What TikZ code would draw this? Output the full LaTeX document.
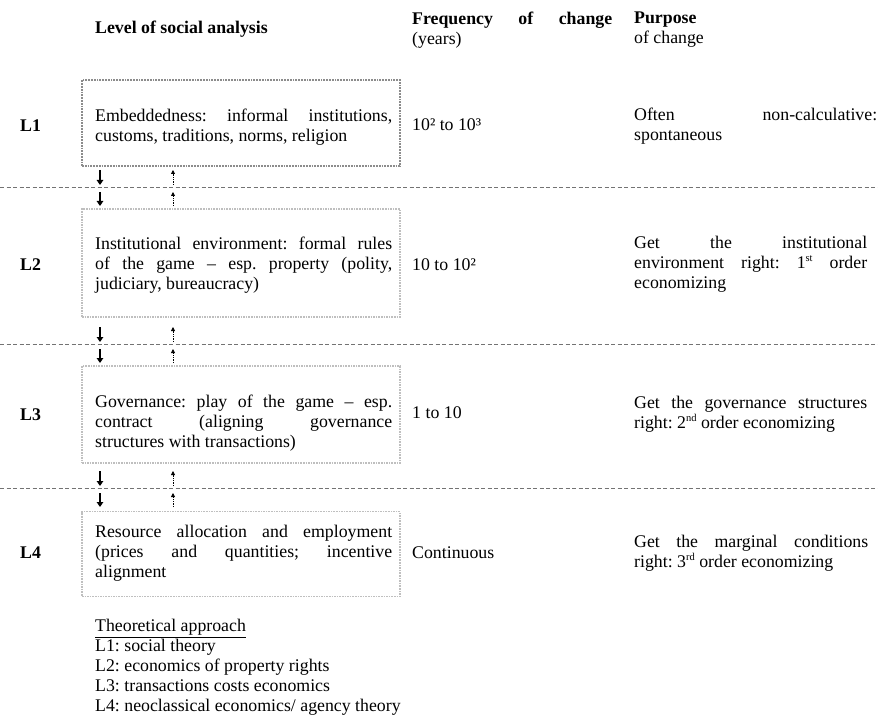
\documentclass[tikz,border=0pt]{standalone}
\usepackage{fontspec}
\setmainfont{Liberation Serif}
\usetikzlibrary{arrows.meta}
\frenchspacing
\newcommand\jl[2]{\makebox[#1pt][s]{#2}}
\newcommand\supx[1]{\raisebox{6.5pt}{\fontsize{10.5}{10.5}\selectfont #1}}
\begin{document}
\begin{tikzpicture}[x=1pt,y=-1pt,
  txt/.style={inner sep=0pt, anchor=west, align=left, font=\fontsize{17.8}{20}\selectfont\frenchspacing},
  lbl/.style={inner sep=0pt, anchor=west, font=\fontsize{17.8}{20}\selectfont\bfseries},
  boxA/.style={draw=black!45, densely dotted, line width=1.8pt, inner sep=0pt},
  boxB/.style={draw=black!25, densely dotted, line width=1.6pt, inner sep=0pt},
  sep/.style={draw=black!55, line width=0.9pt, dash pattern=on 4pt off 2.5pt},
  downarr/.style={draw=black, line width=1.4pt, -{Triangle[width=6.5pt,length=5pt]}},
  uparr/.style={draw=black, line width=0.8pt, densely dotted, -{Triangle[width=4pt,length=4pt]}}
]
\fill[white] (0,0) rectangle (878,722);
\useasboundingbox (0,0) rectangle (878,722);

% headers
\node[lbl] (h1) at (95,29) {Level of social analysis};
\node[txt] (h2) at (412,30) {\bfseries\jl{200}{Frequency of change}\\(years)};
\node[txt] (h3) at (634,30) {\textbf{Purpose}\\of change};

% boxes
\node[boxA, minimum width=318pt, minimum height=86pt] (b1) at (241,123) {};
\node[boxB, minimum width=318pt, minimum height=108pt] (b2) at (241,263) {};
\node[boxB, minimum width=318pt, minimum height=97pt] (b3) at (241,414.5) {};
\node[boxB, minimum width=318pt, minimum height=85pt] (b4) at (241,554) {};

% level labels
\node[lbl] (l1) at (20,126) {L1};
\node[lbl] (l2) at (20,265) {L2};
\node[lbl] (l3) at (20,415) {L3};
\node[lbl] (l4) at (20,553) {L4};

% box texts
\node[txt] (t1) at (95,127) {\jl{297}{Embeddedness: informal institutions,}\\customs, traditions, norms, religion};
\node[txt] (t2) at (95,265) {\jl{297}{Institutional environment: formal rules}\\\jl{297}{of the game – esp. property (polity,}\\judiciary, bureaucracy)};
\node[txt] (t3) at (95,423) {\jl{297}{Governance: play of the game – esp.}\\\jl{297}{contract (aligning governance}\\structures with transactions)};
\node[txt] (t4) at (95,553) {\jl{297}{Resource allocation and employment}\\\jl{297}{(prices and quantities; incentive}\\alignment};

% frequency
\node[txt] (f1) at (412,125) {10² to 10³};
\node[txt] (f2) at (412,265) {10 to 10²};
\node[txt] (f3) at (412,413) {1 to 10};
\node[txt] (f4) at (412,553) {Continuous};

% purpose
\node[txt] (p1) at (634,126) {\jl{243}{Often non-calculative:}\\spontaneous};
\node[txt] (p2) at (634,264) {\jl{233}{Get the institutional}\\\jl{233}{environment right: 1\supx{st} order}\\economizing};
\node[txt] (p3) at (634,414) {\jl{233}{Get the governance structures}\\right: 2\supx{nd} order economizing};
\node[txt] (p4) at (634,553) {\jl{234}{Get the marginal conditions}\\right: 3\supx{rd} order economizing};

% separators
\coordinate (s1a) at (0,187); \coordinate (s1b) at (878,187);
\coordinate (s2a) at (0,344); \coordinate (s2b) at (878,344);
\coordinate (s3a) at (0,488); \coordinate (s3b) at (878,488);
\draw[sep] (s1a) -- (s1b);
\draw[sep] (s2a) -- (s2b);
\draw[sep] (s3a) -- (s3b);

% arrows
\foreach \i/\y in {1/187,2/344,3/488}{
  \coordinate (da\i) at (100,\y-17);
  \coordinate (db\i) at (100,\y-2);
  \coordinate (dc\i) at (100,\y+5);
  \coordinate (dd\i) at (100,\y+19);
  \coordinate (ua\i) at (173,\y-2);
  \coordinate (ub\i) at (173,\y-17);
  \coordinate (uc\i) at (173,\y+19);
  \coordinate (ud\i) at (173,\y+5);
  \draw[downarr] (da\i) -- (db\i);
  \draw[downarr] (dc\i) -- (dd\i);
  \draw[uparr] (ua\i) -- (ub\i);
  \draw[uparr] (uc\i) -- (ud\i);
}

% theoretical approach
\node[txt] (ta) at (95,667.5) {\underline{Theoretical approach}\\L1: social theory\\L2: economics of property rights\\L3: transactions costs economics\\L4: neoclassical economics/ agency theory};
\end{tikzpicture}
\end{document}
